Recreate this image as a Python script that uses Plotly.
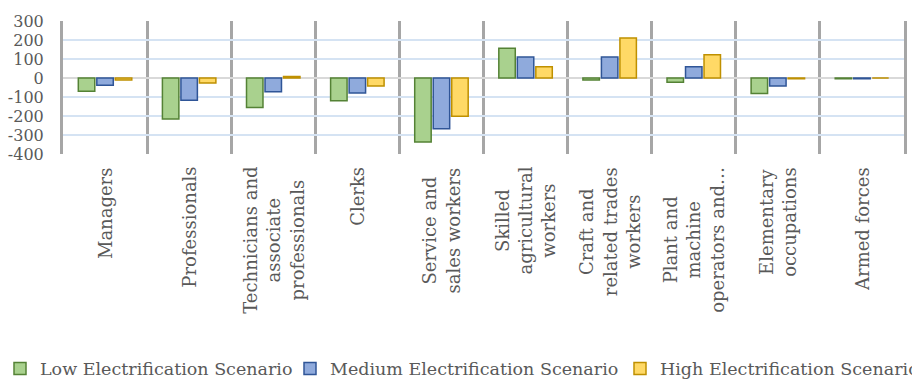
import plotly.graph_objects as go

# Occupation groups (wrapped as shown under the axis)
categories = [
    "Managers",
    "Professionals",
    "Technicians and associate professionals",
    "Clerks",
    "Service and sales workers",
    "Skilled agricultural workers",
    "Craft and related trades workers",
    "Plant and machine operators and assemblers",
    "Elementary occupations",
    "Armed forces",
]
category_labels = [
    "Managers",
    "Professionals",
    "Technicians and<br>associate<br>professionals",
    "Clerks",
    "Service and<br>sales workers",
    "Skilled<br>agricultural<br>workers",
    "Craft and<br>related trades<br>workers",
    "Plant and<br>machine<br>operators and…",
    "Elementary<br>occupations",
    "Armed forces",
]

# Change in employment by scenario
low_values = [-70, -216, -155, -120, -337, 156, -10, -23, -82, -4]
medium_values = [-38, -117, -73, -79, -267, 110, 110, 59, -42, -4]
high_values = [-10, -26, 8, -42, -201, 59, 211, 122, -4, 0]

series_names = [
    "Low Electrification Scenario",
    "Medium Electrification Scenario",
    "High Electrification Scenario",
]
y_tick_values = [-400, -300, -200, -100, 0, 100, 200, 300]
y_tick_text = ["-400", "-300", "-200", "-100", "0", "100", "200", "300"]

FONT = "DejaVu Serif"
TEXT_GREY = "#595959"
W, H = 912, 380

# name, values, fill, outline, legend id, legend left edge (px)
series = [
    (series_names[0], low_values, "#A9D18E", "#548235", "legend", 0),
    (series_names[1], medium_values, "#8FAADC", "#2F5597", "legend2", 290),
    (series_names[2], high_values, "#FFD966", "#BF9000", "legend3", 620),
]

fig = go.Figure()
for name, vals, fill, edge, leg, _ in series:
    fig.add_trace(
        go.Bar(
            x=categories,
            y=vals,
            name=name,
            legend=leg,
            showlegend=True,
            marker=dict(color=fill, line=dict(color=edge, width=1.5)),
        )
    )

legend_common = dict(
    visible=True,
    orientation="h",
    xref="container",
    yref="container",
    y=0.03,
    xanchor="left",
    yanchor="middle",
    font=dict(family=FONT, size=17.5, color=TEXT_GREY),
    bgcolor="rgba(0,0,0,0)",
)
legends = {}
for _, _, _, _, leg, left_px in series:
    legends[leg] = dict(legend_common, x=left_px / W)

# Rotated, centred category labels under the axis
for cat, lab in zip(categories, category_labels):
    fig.add_annotation(
        x=cat,
        y=0,
        xref="x",
        yref="paper",
        yanchor="top",
        xanchor="center",
        yshift=-11,
        text=lab,
        textangle=-90,
        align="center",
        showarrow=False,
        font=dict(family=FONT, size=18, color=TEXT_GREY),
    )

fig.update_layout(
    width=W,
    height=H,
    showlegend=True,
    margin=dict(l=63, r=8, t=21, b=226, autoexpand=False),
    paper_bgcolor="white",
    plot_bgcolor="white",
    barmode="group",
    bargap=0.34,
    bargroupgap=0.11,
    **legends,
)
fig.update_xaxes(
    type="category",
    tickson="boundaries",
    showgrid=True,
    gridcolor="#A6A6A6",
    gridwidth=3,
    showticklabels=False,
    ticks="",
    showline=False,
    zeroline=False,
)
fig.update_yaxes(
    range=[-400, 300],
    tickvals=y_tick_values,
    ticktext=y_tick_text,
    showgrid=True,
    gridcolor="#D5E3F3",
    gridwidth=1.5,
    zeroline=True,
    zerolinecolor="#D9D9D9",
    zerolinewidth=2,
    showline=True,
    mirror=True,
    linecolor="#A6A6A6",
    linewidth=3,
    ticks="outside",
    ticklen=13,
    tickcolor="rgba(0,0,0,0)",
    tickfont=dict(family=FONT, size=16, color=TEXT_GREY),
)

fig.write_html("out.html")
